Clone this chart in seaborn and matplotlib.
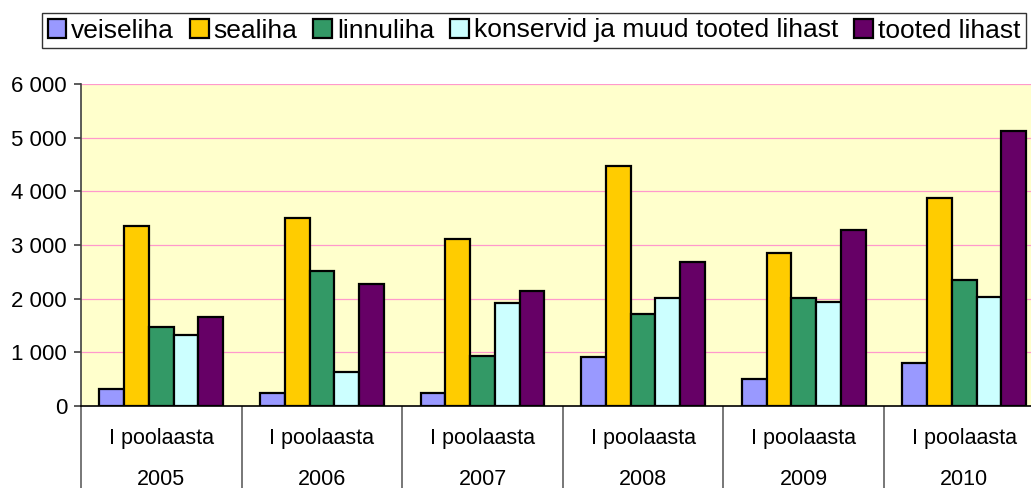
import numpy as np
import pandas as pd
import matplotlib
matplotlib.use("Agg")
import matplotlib.pyplot as plt
import seaborn as sns
from matplotlib.ticker import FuncFormatter

years = ["2005", "2006", "2007", "2008", "2009", "2010"]
period = "I poolaasta"

series_names = ["veiseliha", "sealiha", "linnuliha",
                "konservid ja muud tooted lihast", "tooted lihast"]
veiseliha = [320, 240, 250, 920, 500, 810]
sealiha = [3360, 3500, 3120, 4480, 2860, 3880]
linnuliha = [1470, 2510, 930, 1720, 2010, 2350]
konservid = [1320, 630, 1910, 2010, 1930, 2040]
tooted = [1650, 2280, 2140, 2680, 3280, 5120]

colors = ["#9999FF", "#FFCC00", "#339966", "#CCFFFF", "#660066"]

# long format for seaborn
rows = []
for name, vals in zip(series_names, [veiseliha, sealiha, linnuliha, konservid, tooted]):
    for y, v in zip(years, vals):
        rows.append({"aasta": y, "liik": name, "kogus": v})
df = pd.DataFrame(rows)

sns.set_style("white")
plt.rcParams["font.family"] = ["Liberation Sans", "DejaVu Sans"]
plt.rcParams["text.color"] = "black"

fig = plt.figure(figsize=(10.31, 4.88), dpi=100)
ax = fig.add_axes([81 / 1031, 1 - 406 / 488, 963.6 / 1031, 322 / 488])
ax.set_facecolor("#FFFFCC")

sns.barplot(data=df, x="aasta", y="kogus", hue="liik", order=years,
            hue_order=series_names, palette=colors, saturation=1,
            width=0.77, edgecolor="black", linewidth=1.6, ax=ax)

ax.set_xlim(-0.5, 5.5)
ax.set_ylim(0, 6000)
ax.set_yticks(range(0, 6001, 1000))
ax.yaxis.set_major_formatter(FuncFormatter(lambda v, p: f"{int(v):,}".replace(",", " ")))
ax.set_xlabel("")
ax.set_ylabel("")

# pink gridlines
for v in range(1000, 6001, 1000):
    ax.axhline(v, color="#FF99CC", lw=0.9, zorder=0)
ax.set_axisbelow(True)

for s in ["top", "right"]:
    ax.spines[s].set_visible(False)
ax.spines["left"].set_color("#404040")
ax.spines["bottom"].set_color("black")
ax.spines["left"].set_linewidth(1.2)
ax.spines["bottom"].set_linewidth(1.2)

ax.tick_params(axis="y", direction="out", length=5, width=1.2, color="#404040",
               labelsize=16, pad=5, left=True, labelcolor="black")
ax.set_xticks(range(len(years)))
ax.set_xticklabels([f"{period}\n{y}" for y in years], linespacing=2.25)
ax.tick_params(axis="x", which="major", length=0, labelsize=15.5, pad=16,
               labelcolor="black")
ax.set_xticks(np.arange(-0.5, 6.0, 1.0), minor=True)
ax.tick_params(axis="x", which="minor", direction="out", length=62, width=1.2,
               color="#606060", bottom=True)

handles, labels = ax.get_legend_handles_labels()
leg = ax.legend(handles, labels, loc="center", bbox_to_anchor=(0.518, 0.9375),
                bbox_transform=fig.transFigure, ncol=5, fontsize=19, frameon=True,
                fancybox=False, edgecolor="#333333", framealpha=1, borderpad=0.2,
                handlelength=0.7, handleheight=0.7, handletextpad=0.2,
                columnspacing=0.6, borderaxespad=0, labelcolor="black")
leg.get_frame().set_linewidth(1.0)

fig.savefig("out.png", dpi=100)
